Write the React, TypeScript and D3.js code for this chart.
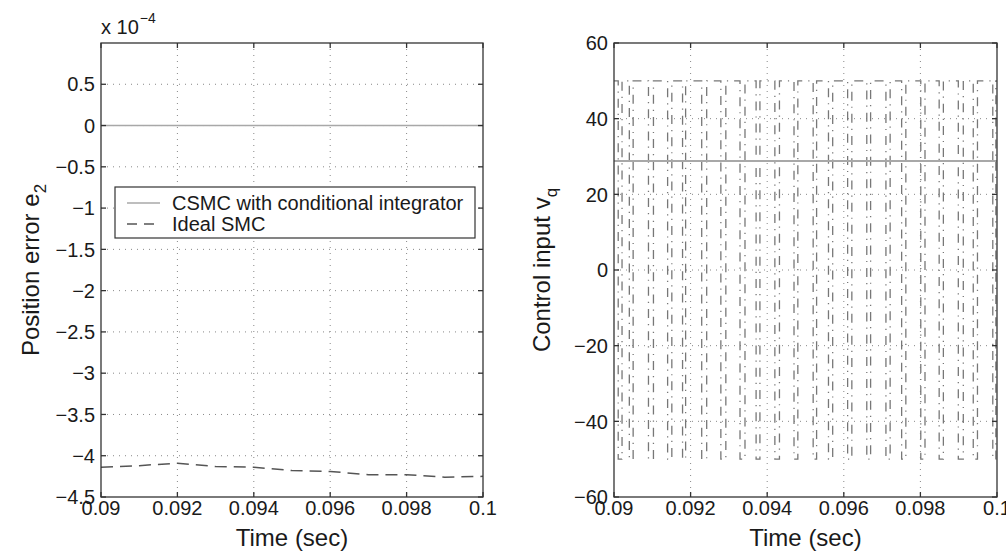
import React from "react";
import * as d3 from "d3";

// ---- Data ----
const leftXTicks = [0.09, 0.092, 0.094, 0.096, 0.098, 0.1];
const leftYTicks = [0.5, 0, -0.5, -1, -1.5, -2, -2.5, -3, -3.5, -4, -4.5];
const rightYTicks = [60, 40, 20, 0, -20, -40, -60];

// Position error (x1e-4)
const csmcT = [0.09, 0.1];
const csmcE = [0, 0];
const idealT = [0.09, 0.091, 0.092, 0.093, 0.094, 0.095, 0.096, 0.097, 0.098, 0.099, 0.1];
const idealE = [-4.14, -4.12, -4.09, -4.13, -4.14, -4.18, -4.19, -4.23, -4.23, -4.26, -4.25];

// Control input
const csmcVq = 28.8;
const idealHigh = 50;
const idealLow = -50;
const idealSwitchTimes = [
  0.09011, 0.09021, 0.0904, 0.0905, 0.0909, 0.09103, 0.0914, 0.09151, 0.09179, 0.09187,
  0.09229, 0.09242, 0.09279, 0.09292, 0.09329, 0.09342, 0.09371, 0.09381, 0.0942, 0.09432,
  0.0947, 0.0948, 0.0952, 0.09529, 0.0956, 0.09571, 0.0961, 0.09621, 0.0966, 0.0967,
  0.0971, 0.09721, 0.09751, 0.09762, 0.09801, 0.09812, 0.09849, 0.0986, 0.09899, 0.09912,
  0.09938, 0.09949, 0.09989, 0.09997,
];

const legendLabels = ["CSMC with conditional integrator", "Ideal SMC"];

const FONT = "'Liberation Sans', Arial, Helvetica, sans-serif";
const TXT = "#1a1a1a";
const AX = "#333";

function fmtX(v: number) {
  return String(+v.toFixed(3));
}
function fmtY(v: number) {
  return v < 0 ? "\u2212" + String(Math.abs(v)) : String(v);
}

type PanelProps = {
  x0: number; x1: number; y0: number; y1: number;
  yDomain: [number, number]; yTicks: number[];
  children: (xs: d3.ScaleLinear<number, number>, ys: d3.ScaleLinear<number, number>) => React.ReactNode;
};

function Panel({ x0, x1, y0, y1, yDomain, yTicks, children }: PanelProps) {
  const xs = d3.scaleLinear().domain([0.09, 0.1]).range([x0, x1]);
  const ys = d3.scaleLinear().domain(yDomain).range([y1, y0]);
  const tl = 5;
  return (
    <g>
      {leftXTicks.slice(1, -1).map((t) => (
        <line key={"gx" + t} x1={xs(t)} x2={xs(t)} y1={y0} y2={y1} stroke="#888" strokeWidth={1} strokeDasharray="1,5" />
      ))}
      {yTicks.filter((t) => ys(t) > y0 + 1 && ys(t) < y1 - 1).map((t) => (
        <line key={"gy" + t} x1={x0} x2={x1} y1={ys(t)} y2={ys(t)} stroke="#888" strokeWidth={1} strokeDasharray="1,5" />
      ))}
      {children(xs, ys)}
      <rect x={x0} y={y0} width={x1 - x0} height={y1 - y0} fill="none" stroke={AX} strokeWidth={1.3} />
      {leftXTicks.map((t) => (
        <g key={"tx" + t}>
          <line x1={xs(t)} x2={xs(t)} y1={y1} y2={y1 - tl} stroke={AX} strokeWidth={1.3} />
          <line x1={xs(t)} x2={xs(t)} y1={y0} y2={y0 + tl} stroke={AX} strokeWidth={1.3} />
          <text x={xs(t)} y={y1 + 18} textAnchor="middle" fontSize={20} fill={TXT} fontFamily={FONT}>{fmtX(t)}</text>
        </g>
      ))}
      {yTicks.map((t) => (
        <g key={"ty" + t}>
          <line x1={x0} x2={x0 + tl} y1={ys(t)} y2={ys(t)} stroke={AX} strokeWidth={1.3} />
          <line x1={x1} x2={x1 - tl} y1={ys(t)} y2={ys(t)} stroke={AX} strokeWidth={1.3} />
          <text x={x0 - 6} y={ys(t)} dy="0.36em" textAnchor="end" fontSize={20} fill={TXT} fontFamily={FONT}>{fmtY(t)}</text>
        </g>
      ))}
      <text x={(x0 + x1) / 2} y={546} textAnchor="middle" fontSize={24} fill={TXT} fontFamily={FONT}>Time (sec)</text>
    </g>
  );
}

export default function App() {
  const L = { x0: 101, x1: 483, y0: 43, y1: 497 };
  const R = { x0: 614, x1: 997, y0: 43, y1: 497 };

  return (
    <svg width={1006} height={552} style={{ position: "absolute", left: 0, top: 0, background: "#fff" }}>
      <rect x={0} y={0} width={1006} height={552} fill="#fff" />
      <Panel {...L} yDomain={[-4.5, 1.0]} yTicks={leftYTicks}>
        {(xs, ys) => {
          const line = d3.line<[number, number]>().x((d) => xs(d[0])).y((d) => ys(d[1]));
          const csmc = line(csmcT.map((t, i) => [t, csmcE[i]] as [number, number])) || "";
          const ideal = line(idealT.map((t, i) => [t, idealE[i]] as [number, number])) || "";
          return (
            <g>
              <path d={csmc} fill="none" stroke="#a8a8a8" strokeWidth={1.6} />
              <path d={ideal} fill="none" stroke="#555" strokeWidth={1.5} strokeDasharray="12,7" />
            </g>
          );
        }}
      </Panel>
      <text x={101} y={34} fontSize={20} fill={TXT} fontFamily={FONT}>
        x 10
        <tspan dx={1} dy={-11} fontSize={14}>{"\u22124"}</tspan>
      </text>
      <text transform={`translate(39,${(L.y0 + L.y1) / 2}) rotate(-90)`} textAnchor="middle" fontSize={24} fill={TXT} fontFamily={FONT}>
        Position error e<tspan dy={7} fontSize={17}>2</tspan>
      </text>
      <g fontFamily={FONT}>
        <rect x={115} y={187} width={360} height={51} fill="#fff" stroke={AX} strokeWidth={1.2} />
        <line x1={127} x2={160} y1={203} y2={203} stroke="#a8a8a8" strokeWidth={1.6} />
        <line x1={127} x2={160} y1={224} y2={224} stroke="#555" strokeWidth={1.5} strokeDasharray="10,7" />
        <text x={172} y={203} dy="0.36em" fontSize={20} fill={TXT}>{legendLabels[0]}</text>
        <text x={172} y={224} dy="0.36em" fontSize={20} fill={TXT}>{legendLabels[1]}</text>
      </g>

      <Panel {...R} yDomain={[-60, 60]} yTicks={rightYTicks}>
        {(xs, ys) => {
          const pts: [number, number][] = [[0.09, idealHigh]];
          let cur = idealHigh;
          idealSwitchTimes.forEach((t) => {
            pts.push([t, cur]);
            cur = cur === idealHigh ? idealLow : idealHigh;
            pts.push([t, cur]);
          });
          pts.push([0.1, cur]);
          const line = d3.line<[number, number]>().x((d) => xs(d[0])).y((d) => ys(d[1]));
          return (
            <g>
              <path d={line(pts) || ""} fill="none" stroke="#777" strokeWidth={1.3} strokeDasharray="9,6,1.2,6" />
              <line x1={xs(0.09)} x2={xs(0.1)} y1={ys(csmcVq)} y2={ys(csmcVq)} stroke="#a8a8a8" strokeWidth={2} />
            </g>
          );
        }}
      </Panel>
      <text transform={`translate(550,${(R.y0 + R.y1) / 2}) rotate(-90)`} textAnchor="middle" fontSize={24} fill={TXT} fontFamily={FONT}>
        Control input v<tspan dy={7} fontSize={17}>q</tspan>
      </text>
    </svg>
  );
}
